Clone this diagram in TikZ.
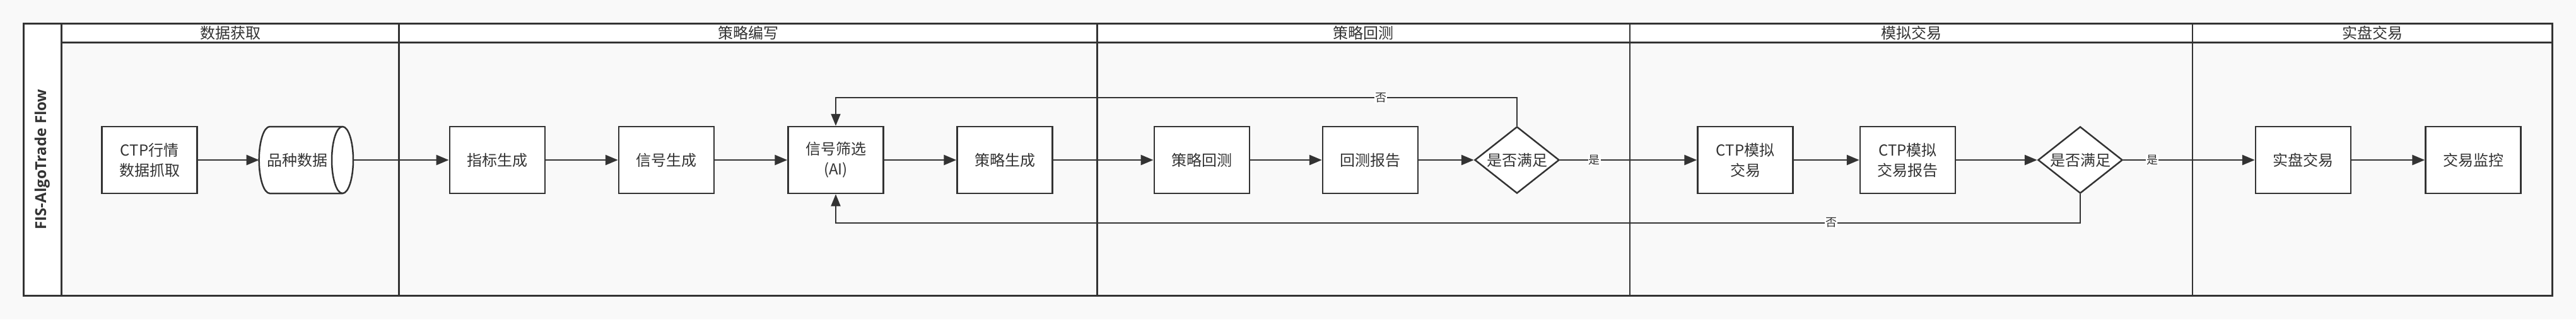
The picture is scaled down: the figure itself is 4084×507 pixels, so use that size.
\documentclass[tikz,border=0pt]{standalone}
\usepackage{fontspec}
\setmainfont{Noto Sans CJK SC}
\newfontfamily\titlefont{Open Sans}
\usetikzlibrary{arrows.meta,shapes.geometric,calc}
\definecolor{ln}{HTML}{333333}
\definecolor{bgc}{HTML}{F9F9F9}
\begin{document}
\begin{tikzpicture}[x=1pt,y=-1pt,
  every node/.style={text=ln, font=\fontsize{24}{32}\selectfont},
  box/.style={draw=ln, line width=2.5pt, fill=white, minimum width=151pt, minimum height=106pt, inner sep=0pt, align=center},
  dia/.style={diamond, draw=ln, line width=2.5pt, fill=white, minimum width=134pt, minimum height=106pt, inner sep=0pt, aspect=1.264},
  flow/.style={draw=ln, line width=2.7pt, -{Triangle[length=20pt,width=16pt]}},
  back/.style={draw=ln, line width=2pt, -{Triangle[length=19pt,width=15pt]}},
  lbl/.style={fill=white, inner sep=1pt, font=\fontsize{18}{20}\selectfont},
  outerframe/.style={draw=ln, line width=3pt},
  divider/.style={draw=ln, line width=2.5pt}
]
\fill[bgc] (0,0) rectangle (4084,507);
\useasboundingbox (0,0) rectangle (4084,507);
% pool
\fill[white] (37.3,37.3) rectangle (97.3,469);
\fill[white] (97.3,37.3) rectangle (4046.6,67);
\foreach \x in {632.5,1739.5,2584,3476}{\draw[divider] (\x,37.3) -- (\x,469);}
\draw[outerframe] (97.3,37.3) -- (97.3,469);
\draw[outerframe] (97.3,67) -- (4046.6,67);
\draw[outerframe] (37.3,37.3) rectangle (4046.6,469);
\node[rotate=90, font=\titlefont\bfseries\fontsize{24}{28}\selectfont] (title) at (67,253) {FIS-AlgoTrade Flow};
\node (h1) at (365,52) {数据获取};
\node (h2) at (1186,52) {策略编写};
\node (h3) at (2161.75,52) {策略回测};
\node (h4) at (3030,52) {模拟交易};
\node (h5) at (3761.3,52) {实盘交易};
% cylinder
\draw[line width=2.5pt, draw=ln, fill=white] (427.7,201) -- (543,201)
  arc[start angle=90, end angle=-90, x radius=17pt, y radius=53pt] -- (427.7,307)
  arc[start angle=270, end angle=90, x radius=17pt, y radius=53pt] -- cycle;
\draw[line width=2.5pt, draw=ln] (543,201) arc[start angle=90, end angle=270, x radius=17pt, y radius=53pt];
% nodes
\node[box] (ctp) at (237,254) {CTP行情\\数据抓取};
\node[minimum width=149pt, minimum height=106pt, inner sep=0pt] (cyl) at (485.4,254) {\hspace*{-28pt}品种数据};
\node[box] (zb) at (788.3,254) {指标生成};
\node[box] (xh) at (1056.5,254) {信号生成};
\node[box] (sx) at (1325,254) {信号筛选\\(AI)};
\node[box] (cl) at (1593,254) {策略生成};
\node[box] (hc) at (1905.3,254) {策略回测};
\node[box] (bg) at (2172.5,254) {回测报告};
\node[dia] (d1) at (2405,254) {是否满足};
\node[box] (mn) at (2767,254) {CTP模拟\\交易};
\node[box] (mnb) at (3024.5,254) {CTP模拟\\交易报告};
\node[dia] (d2) at (3298,254) {是否满足};
\node[box] (sp) at (3651.5,254) {实盘交易};
\node[box] (jk) at (3921,254) {交易监控};
% connectors
\draw[flow] (ctp) -- (cyl);
\draw[flow] (cyl) -- (zb);
\draw[flow] (zb) -- (xh);
\draw[flow] (xh) -- (sx);
\draw[flow] (sx) -- (cl);
\draw[flow] (cl) -- (hc);
\draw[flow] (hc) -- (bg);
\draw[flow] (bg) -- (d1);
\draw[flow] (d1) -- node[lbl, pos=0.25] {是} (mn);
\draw[flow] (mn) -- (mnb);
\draw[flow] (mnb) -- (d2);
\draw[flow] (d2) -- node[lbl, pos=0.22] {是} (sp);
\draw[flow] (sp) -- (jk);
\draw[back] (d1.north) -- ([yshift=44.3pt]d1.north) -| node[lbl, pos=0.1] {否} (sx.north);
\draw[back] (d2.south) -- ([yshift=-45.3pt]d2.south) -| node[lbl, pos=0.1] {否} (sx.south);
\end{tikzpicture}
\end{document}
